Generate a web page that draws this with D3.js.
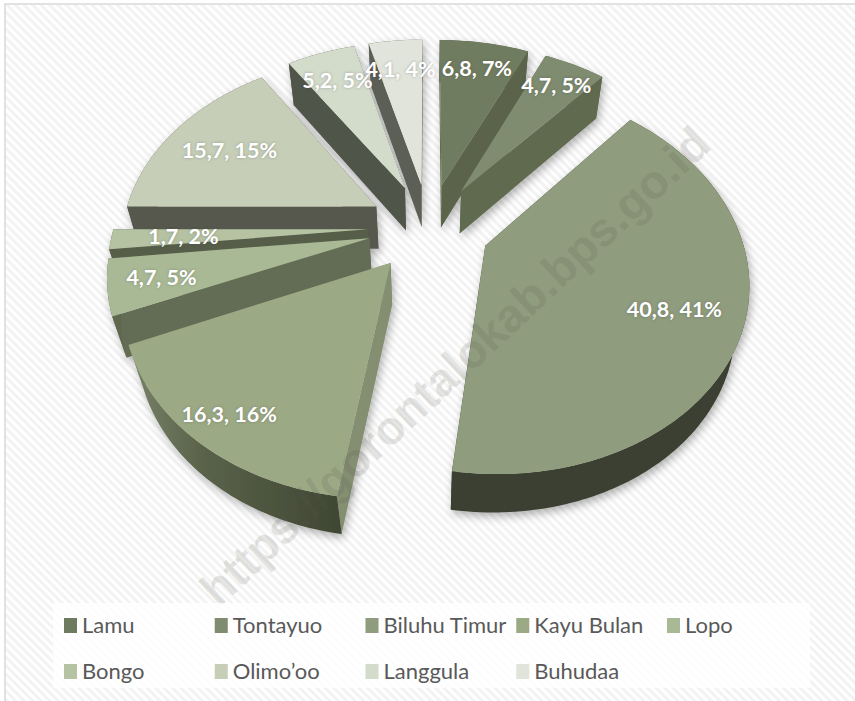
<!DOCTYPE html>
<html>
<head>
<meta charset="utf-8">
<script src="https://cdn.jsdelivr.net/npm/d3@7"></script>
<style>
  html, body { margin: 0; padding: 0; background: #fff; }
  svg { display: block; }
  .pct { font-family: Lato, sans-serif; font-weight: 700; font-size: 21.5px; fill: #fff; text-anchor: middle;
         text-shadow: 0 0 3px rgba(60,60,60,.35); }
  .leg { font-family: Lato, sans-serif; font-size: 22px; fill: #595959; }
  .wm  { font-family: "Liberation Sans", sans-serif; font-weight: 700; font-size: 47px; fill: #5a5a50; fill-opacity: .17; text-anchor: middle; }
</style>
</head>
<body>
<div id="chart"></div>
<script>
var categories = ["Lamu", "Tontayuo", "Biluhu Timur", "Kayu Bulan", "Lopo", "Bongo", "Olimo\u2019oo", "Langgula", "Buhudaa"];
var values = [6.8, 4.7, 40.8, 16.3, 4.7, 1.7, 15.7, 5.2, 4.1];
var percents = [7, 5, 41, 16, 5, 2, 15, 5, 4];

var topColors  = ["#6f7b5f", "#7f8c70", "#8f9c7d", "#9ca985", "#a9b995", "#b6c3a3", "#c6ceb8", "#d3dbcb", "#e0e4da"];
var cutColors  = ["#5b644c", "#616a50", "#3a4030", "#848f72", "#646d54", "#565d48", "#56584e", "#50554a", "#5b5e54"];
var wallColors = ["#5b644c", "#616a50", "#3a4030", "url(#kayuWall)", "#5f6850", "#565d48", "#56584e", "#50554a", "#5b5e54"];

var width = 855, height = 701;

// camera for the tilted pie
var cx = 429, cy = 227, k = 254;
var S = 0.72, C = 0.69, D = 4.1;
var explode = 0.24, depth = 0.25;
var labelR = [0.8, 0.82, 0.75, 0.86, 0.8, 0.72, 0.72, 0.78, 0.78];

function project(X, Y, Z) {
    var w = 1 + (Y * C - Z * S) / D;
    return [cx + k * X / w, cy - k * (Y * S + Z * C) / w];
}

var svg = d3.select("#chart").append("svg")
    .attr("width", width)
    .attr("height", height);

var defs = svg.append("defs");

var stripes = defs.append("pattern")
    .attr("id", "stripes")
    .attr("patternUnits", "userSpaceOnUse")
    .attr("width", 6)
    .attr("height", 6)
    .attr("patternTransform", "rotate(-45)");
stripes.append("rect").attr("width", 6).attr("height", 6).attr("fill", "#ffffff");
stripes.append("rect").attr("width", 3).attr("height", 6).attr("fill", "#f3f3f3");

var grad = defs.append("linearGradient").attr("id", "kayuWall");
grad.append("stop").attr("offset", "0%").attr("stop-color", "#78836a");
grad.append("stop").attr("offset", "35%").attr("stop-color", "#5a6249");
grad.append("stop").attr("offset", "100%").attr("stop-color", "#3f4633");

var shadow = defs.append("filter")
    .attr("id", "pieShadow")
    .attr("x", "-10%").attr("y", "-10%")
    .attr("width", "120%").attr("height", "120%");
shadow.append("feDropShadow")
    .attr("dx", 2).attr("dy", 4)
    .attr("stdDeviation", 4)
    .attr("flood-color", "#000")
    .attr("flood-opacity", 0.3);

// background and frame
svg.append("rect").attr("x", 5).attr("y", 5).attr("width", width).attr("height", height).attr("fill", "url(#stripes)");
svg.append("line").attr("x1", 4).attr("y1", 4).attr("x2", width).attr("y2", 4).attr("stroke", "#d9d9d9").attr("stroke-width", 1.5);
svg.append("line").attr("x1", 5).attr("y1", 4).attr("x2", 5).attr("y2", height).attr("stroke", "#d9d9d9").attr("stroke-width", 1.5);

var pie = d3.pie().sort(null)(values);
var line = d3.line();

pie.forEach(function(d, i) {
    d.i = i;
    d.mid = (d.startAngle + d.endAngle) / 2;
});

function pt(d, a, r, z) {
    return project(r * Math.sin(a) + explode * Math.sin(d.mid),
                   r * Math.cos(a) + explode * Math.cos(d.mid), z);
}

function arcPoints(d, z) {
    var n = Math.max(2, Math.ceil((d.endAngle - d.startAngle) / 0.02));
    return d3.range(n + 1).map(function(j) {
        return pt(d, d.startAngle + (d.endAngle - d.startAngle) * j / n, 1, z);
    });
}

var pieG = svg.append("g").attr("filter", "url(#pieShadow)");

// back slices first
var order = pie.slice().sort(function(a, b) { return Math.cos(b.mid) - Math.cos(a.mid); });

order.forEach(function(d) {
    var g = pieG.append("g");
    var h = -depth;

    [d.startAngle, d.endAngle].forEach(function(a) {
        g.append("path")
            .attr("d", line([pt(d, a, 0, 0), pt(d, a, 1, 0), pt(d, a, 1, h), pt(d, a, 0, h)]) + "Z")
            .attr("fill", cutColors[d.i]);
    });

    g.append("path")
        .attr("d", line(arcPoints(d, 0).concat(arcPoints(d, h).reverse())) + "Z")
        .attr("fill", wallColors[d.i]);

    g.append("path")
        .attr("d", line([pt(d, 0, 0, 0)].concat(arcPoints(d, 0))) + "Z")
        .attr("fill", topColors[d.i]);
});

svg.append("text")
    .attr("class", "wm")
    .attr("transform", "translate(466,378) rotate(-43)")
    .text("https://gorontalokab.bps.go.id");

// legend
svg.append("rect")
    .attr("x", 53).attr("y", 603)
    .attr("width", 757).attr("height", 85)
    .attr("fill", "#fff").attr("fill-opacity", 0.8);

var legendX = d3.scaleLinear().domain([0, 4]).range([64, 667]);
var legendY = d3.scaleLinear().domain([0, 1]).range([618, 664]);

var legend = svg.selectAll(".legItem")
    .data(categories)
    .enter()
    .append("g")
    .attr("transform", function(d, i) {
        return "translate(" + legendX(i % 5) + "," + legendY(Math.floor(i / 5)) + ")";
    });

legend.append("rect")
    .attr("width", 13).attr("height", 15)
    .attr("fill", function(d, i) { return topColors[i]; });

legend.append("text")
    .attr("class", "leg")
    .attr("x", 18).attr("y", 15)
    .text(function(d) { return d; });

// data labels
svg.selectAll(".pct")
    .data(pie)
    .enter()
    .append("text")
    .attr("class", "pct")
    .attr("x", function(d, i) { return pt(d, d.mid, labelR[i], 0)[0]; })
    .attr("y", function(d, i) { return pt(d, d.mid, labelR[i], 0)[1] + 8; })
    .text(function(d, i) {
        return String(values[i]).replace(".", ",") + ", " + percents[i] + "%";
    });
</script>
</body>
</html>
